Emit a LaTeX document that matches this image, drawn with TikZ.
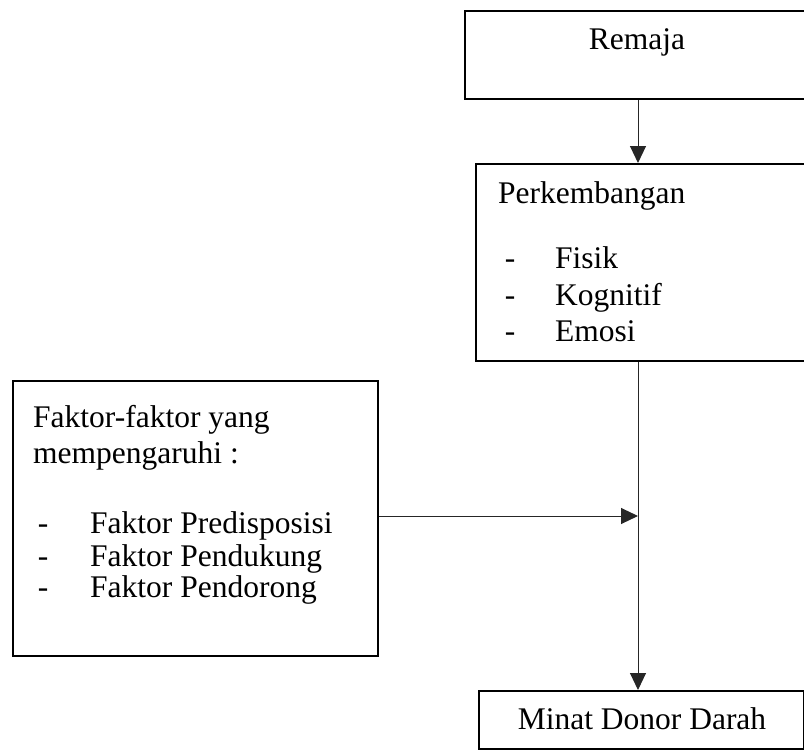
\documentclass[tikz,border=0pt]{standalone}
\usepackage{fontspec}
\setmainfont{Liberation Serif}
\usetikzlibrary{arrows.meta}
\begin{document}
\begin{tikzpicture}[x=1pt,y=-1pt,
  box/.style={draw=black,line width=2pt,rectangle,inner sep=0pt,anchor=north west},
  txt/.style={inner sep=0pt,font=\fontsize{31.5}{36}\selectfont},
  arr/.style={draw=black!85,line width=1pt,-{Triangle[length=17pt,width=16pt]}},
  conn/.style={draw=black!85,line width=1pt}]
\useasboundingbox (0,0) rectangle (804,752);
\clip (0,0) rectangle (804,752);
% boxes
\node[box,minimum width=346pt,minimum height=88pt] (remaja) at (464,10) {};
\node[box,minimum width=335pt,minimum height=197pt] (perk) at (475,163) {};
\node[box,minimum width=365pt,minimum height=275pt] (faktor) at (12,380) {};
\node[box,minimum width=325pt,minimum height=58pt] (minat) at (478,690) {};
% texts
\node[txt,anchor=base] (tremaja) at (637,50) {Remaja};
\node[txt,anchor=base west] (tperk) at (498,203) {Perkembangan};
\node[txt,anchor=base] (d1) at (510,268) {-};
\node[txt,anchor=base west] (t1) at (555,268) {Fisik};
\node[txt,anchor=base] (d2) at (510,305) {-};
\node[txt,anchor=base west] (t2) at (555,305) {Kognitif};
\node[txt,anchor=base] (d3) at (510,341) {-};
\node[txt,anchor=base west] (t3) at (555,341) {Emosi};
\node[txt,anchor=base west] (tf1) at (33,427) {Faktor-faktor yang};
\node[txt,anchor=base west] (tf2) at (33,463) {mempengaruhi :};
\node[txt,anchor=base] (e1) at (43,533) {-};
\node[txt,anchor=base west] (f1) at (90,533) {Faktor Predisposisi};
\node[txt,anchor=base] (e2) at (43,566) {-};
\node[txt,anchor=base west] (f2) at (90,566) {Faktor Pendukung};
\node[txt,anchor=base] (e3) at (43,597) {-};
\node[txt,anchor=base west] (f3) at (90,597) {Faktor Pendorong};
\node[txt,anchor=base] (tminat) at (642,729) {Minat Donor Darah};
% connectors
\coordinate (jx) at (638,0);
\coordinate (jy) at (0,516);
\draw[arr] (remaja.south -| jx) -- (perk.north -| jx);
\draw[arr] (perk.south -| jx) -- (minat.north -| jx);
\draw[arr] (faktor.east |- jy) -- (jx |- jy);
\end{tikzpicture}
\end{document}
